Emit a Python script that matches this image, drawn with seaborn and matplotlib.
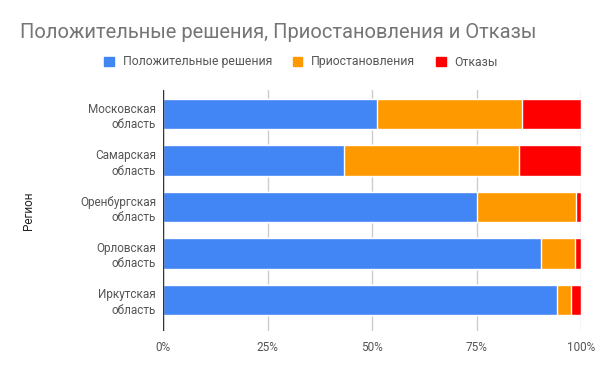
import matplotlib
matplotlib.use("Agg")
import pandas as pd
import numpy as np
import seaborn as sns
import matplotlib.pyplot as plt
from matplotlib.patches import Patch

regions = ["Московская\nобласть", "Самарская\nобласть", "Оренбургская\nобласть",
           "Орловская\nобласть", "Иркутская\nобласть"]
positive = [51.3, 43.2, 75.2, 90.4, 94.2]
suspended = [34.5, 41.9, 23.5, 8.1, 3.3]
refused = [14.2, 14.9, 1.3, 1.5, 2.5]
series = ["Положительные решения", "Приостановления", "Отказы"]
colors = ["#4285F4", "#FF9900", "#FF0000"]

df = pd.DataFrame({"Регион": regions, "pos": positive, "sus": suspended, "ref": refused})
# stacked: draw cumulative totals, widest first
df["c1"] = df["pos"]
df["c2"] = df["pos"] + df["sus"]
df["c3"] = df["c2"] + df["ref"]

sns.set_style("white")
plt.rcParams["font.family"] = ["Roboto", "DejaVu Sans"]

fig = plt.figure(figsize=(6, 3.71), dpi=100)
ax = fig.add_axes([163 / 600, 1 - 331 / 371, 418 / 600, 241 / 371])

for col, c in zip(["c3", "c2", "c1"], colors[::-1]):
    sns.barplot(data=df, x=col, y="Регион", color=c, width=0.65, orient="h",
                ax=ax, saturation=1, zorder=3)

ax.set_xlim(0, 100)
ax.set_ylim(4.67, -0.52)
ax.set_xticks([0, 25, 50, 75, 100])
ax.set_xticklabels(["0%", "25%", "50%", "75%", "100%"])
ax.grid(axis="x", color="#cccccc", linewidth=1, zorder=0)
ax.axvline(0, color="#333333", linewidth=1, zorder=4)
for s in ax.spines.values():
    s.set_visible(False)
ax.tick_params(axis="both", length=0, labelsize=8.5, colors="#555555")
ax.tick_params(axis="y", pad=5)
ax.tick_params(axis="x", pad=7)
for t in ax.get_yticklabels():
    t.set_horizontalalignment("right")
    t.set_multialignment("right")
    t.set_linespacing(1.25)
ax.set_xlabel("")
ax.set_ylabel("Регион", fontsize=8.5, color="#222222", labelpad=32)

fig.text(20 / 600, 1 - 32 / 371, "Положительные решения, Приостановления и Отказы",
         fontsize=14.5, color="#757575", va="center", ha="left")

handles = [Patch(facecolor=c, edgecolor=c) for c in colors]
fig.legend(handles, series, loc="center", bbox_to_anchor=(301 / 600, 1 - 62 / 371),
           ncol=3, frameon=False, fontsize=8.8, handlelength=0.8, handleheight=0.8,
           handletextpad=0.7, columnspacing=1.7, labelcolor="#555555")

fig.savefig("out.png", dpi=100)
